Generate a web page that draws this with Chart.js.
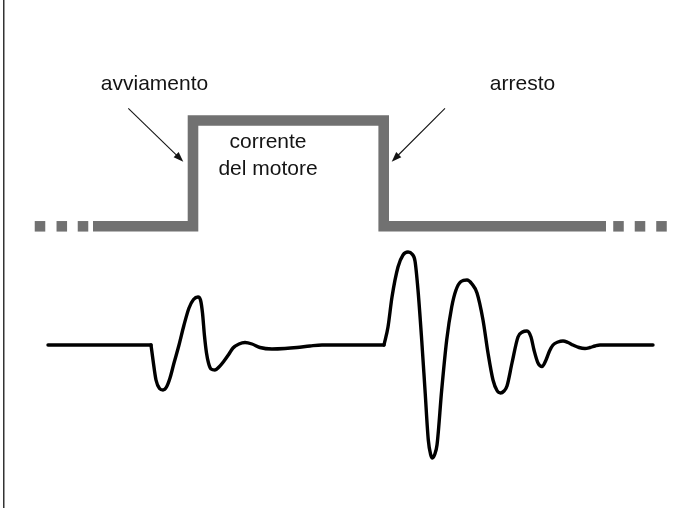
<!DOCTYPE html>
<html>
<head>
<meta charset="utf-8">
<script src="https://cdn.jsdelivr.net/npm/chart.js@4/dist/chart.umd.min.js"></script>
<style>
  html, body { margin: 0; padding: 0; background: #ffffff; }
  #wrap { width: 680px; height: 508px; position: relative; }
</style>
</head>
<body>
<div id="wrap"><canvas id="c" width="680" height="508"></canvas></div>
<script>
// ---- data ----
// time axis (arbitrary units), motor current level: 0 = off, 1 = on
const currentT = [93, 193, 193, 383.7, 383.7, 606];
const currentV = [0, 0, 1, 1, 0, 0];
// continuation dots of the current trace
const dotsT = [40, 61.8, 83, 618.5, 640, 661.5];
const dotsV = [0, 0, 0, 0, 0, 0];
// vibration signal: idle before start
const idleT = [48, 151];
const idleV = [0, 0];
// vibration at start ("avviamento")
const startT = [151, 153, 156, 159.5, 163, 166.5, 170, 174, 179, 184, 189, 193.5, 198, 200.5, 202.5, 204.5, 206.5, 208.5, 211, 215, 219, 224, 229, 233, 239, 245, 252, 260, 272, 285, 297, 310, 322, 384];
const startV = [0, -15, -35, -43.5, -45, -42, -33, -18, 0, 20, 37, 45.5, 48, 45, 32, 9, -8, -18, -24, -25, -22, -16, -9, -3, 1, 2.5, 1, -2.5, -4, -3.5, -2.5, -1, 0, 0];
// vibration at stop ("arresto")
const stopT = [384, 388, 392, 398, 403, 408, 412, 415, 418, 421.7, 425, 428.3, 430.5, 432.5, 434.5, 437, 441.7, 446.7, 451.7, 456, 461, 467, 472, 477, 483, 488, 493, 497, 500.5, 504, 507, 512, 518, 522.5, 527, 531, 534, 538, 542, 546, 549.5, 553, 558, 563, 568, 573, 579, 585, 590, 595, 600, 653];
const stopV = [0, 18, 48, 78, 90, 93, 91, 84, 55, 5, -45, -95, -109, -113, -110, -100, -45, 5, 38, 55, 63.5, 65, 61, 52, 25, -8, -35, -45.5, -48, -46, -41, -18, 8, 13, 14, 8, -5, -18, -21.5, -15, -6, 0, 3, 4, 2.5, 0, -2.5, -3.5, -2.5, -1, 0, 0];
// texts
const labelTexts = ['avviamento', 'arresto', 'corrente', 'del motore'];

// ---- helpers ----
const zip = (t, v) => t.map((x, i) => ({ x: x, y: v[i] }));
const GRAY = '#717171';
const INK = '#141414';

const sigStyle = {
  yAxisID: 'ySig', borderColor: '#000', borderWidth: 3.4, pointRadius: 0,
  cubicInterpolationMode: 'monotone', borderCapStyle: 'round', borderJoinStyle: 'round', fill: false
};

// text + arrows + frame
const annot = {
  id: 'annot',
  afterDatasetsDraw(chart, args, opts) {
    const ctx = chart.ctx;
    const xs = chart.scales.x, yc = chart.scales.yCur;
    const X = v => xs.getPixelForValue(v), Y = v => yc.getPixelForValue(v);
    ctx.save();
    // left frame line
    ctx.strokeStyle = '#333';
    ctx.lineWidth = 1.5;
    ctx.beginPath();
    ctx.moveTo(chart.chartArea.left + 3.75, 0);
    ctx.lineTo(chart.chartArea.left + 3.75, chart.height);
    ctx.stroke();
    // labels
    ctx.fillStyle = INK;
    ctx.font = "21px 'Liberation Sans', Arial, Helvetica, sans-serif";
    ctx.textAlign = 'center';
    ctx.textBaseline = 'alphabetic';
    opts.labels.forEach((p, i) => ctx.fillText(labelTexts[i], X(p[0]), Y(p[1])));
    // arrows
    ctx.strokeStyle = INK;
    ctx.fillStyle = INK;
    ctx.lineWidth = 1.1;
    opts.arrows.forEach(a => {
      const x0 = X(a[0]), y0 = Y(a[1]), x1 = X(a[2]), y1 = Y(a[3]);
      const ang = Math.atan2(y1 - y0, x1 - x0);
      const L = 10, W = 3.6;
      ctx.beginPath();
      ctx.moveTo(x0, y0);
      ctx.lineTo(x1 - Math.cos(ang) * L * 0.8, y1 - Math.sin(ang) * L * 0.8);
      ctx.stroke();
      ctx.beginPath();
      ctx.moveTo(x1, y1);
      ctx.lineTo(x1 - Math.cos(ang) * L - Math.sin(ang) * W, y1 - Math.sin(ang) * L + Math.cos(ang) * W);
      ctx.lineTo(x1 - Math.cos(ang) * L + Math.sin(ang) * W, y1 - Math.sin(ang) * L - Math.cos(ang) * W);
      ctx.closePath();
      ctx.fill();
    });
    ctx.restore();
  }
};

new Chart(document.getElementById('c'), {
  type: 'line',
  data: {
    datasets: [
      Object.assign({ label: 'idle', data: zip(idleT, idleV) }, sigStyle),
      Object.assign({ label: 'avviamento', data: zip(startT, startV) }, sigStyle),
      Object.assign({ label: 'arresto', data: zip(stopT, stopV) }, sigStyle),
      {
        label: 'corrente del motore', data: zip(currentT, currentV), yAxisID: 'yCur',
        borderColor: GRAY, borderWidth: 10.6, tension: 0, pointRadius: 0,
        borderJoinStyle: 'miter', borderCapStyle: 'butt', fill: false
      },
      {
        type: 'scatter', label: 'dots', data: zip(dotsT, dotsV), yAxisID: 'yCur',
        showLine: false, pointStyle: 'rect', pointRadius: 7.45,
        pointBackgroundColor: GRAY, backgroundColor: GRAY, pointBorderWidth: 0, borderWidth: 0
      }
    ]
  },
  options: {
    responsive: false,
    animation: false,
    devicePixelRatio: 1,
    events: [],
    layout: { padding: 0, autoPadding: false },
    plugins: {
      legend: { display: false },
      tooltip: { enabled: false },
      annot: {
        // [t, current-level] anchors for texts
        labels: [[154.5, 1.288], [522.5, 1.288], [268, 0.737], [268, 0.485]],
        // [t0, lvl0, t1, lvl1]
        arrows: [[128.3, 1.115, 183.3, 0.611], [445, 1.115, 391.7, 0.611]]
      }
    },
    scales: {
      x: { type: 'linear', min: 0, max: 680, display: false },
      ySig: { type: 'linear', min: -163, max: 345, display: false },
      yCur: { type: 'linear', min: -2.6625, max: 2.139, display: false }
    }
  },
  plugins: [annot]
});
</script>
</body>
</html>
